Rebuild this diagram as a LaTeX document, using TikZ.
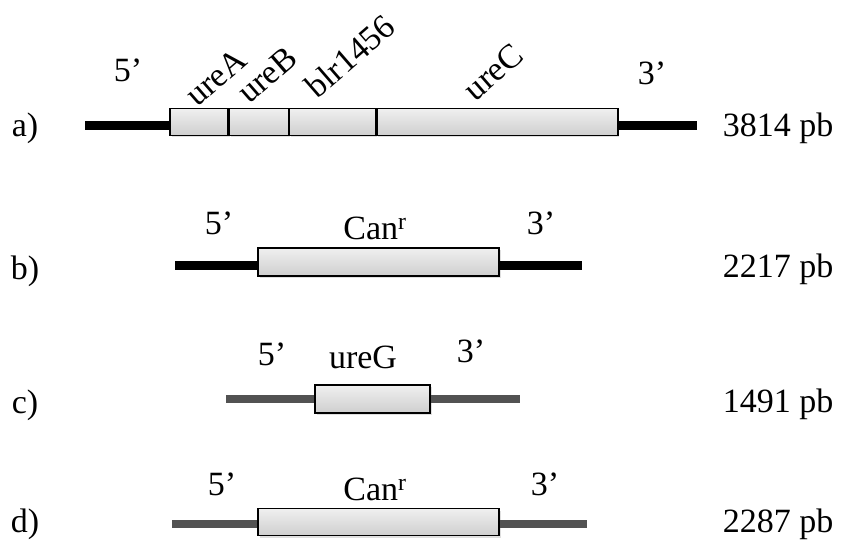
\documentclass[tikz,border=0pt]{standalone}
\usepackage{fontspec}
\setmainfont{Liberation Serif}
\usetikzlibrary{shadows}
\begin{document}
\begin{tikzpicture}[x=1pt,y=-1pt,
  gene/.style={draw=black,line width=1.3pt,inner sep=0pt,top color=gray!12,bottom color=gray!38,
    drop shadow={shadow xshift=1.5pt,shadow yshift=-2pt,opacity=0.25}},
  dnablack/.style={line width=9pt,black},
  dnagray/.style={line width=8pt,black!68},
  lbl/.style={font=\fontsize{34}{38}\selectfont,inner sep=0pt,anchor=base},
  rot/.style={font=\fontsize{34}{38}\selectfont,inner sep=0pt,rotate=41}]
\useasboundingbox (0,0) rectangle (853,540);
% row a
\node[gene,minimum width=58pt,minimum height=27pt] (ga1) at (199,122) {};
\node[gene,minimum width=59pt,minimum height=27pt,anchor=west] (ga2) at (ga1.east) {};
\node[gene,minimum width=86pt,minimum height=27pt,anchor=west] (ga3) at (ga2.east) {};
\node[gene,minimum width=241pt,minimum height=27pt,anchor=west] (ga4) at (ga3.east) {};
\coordinate (la) at (85,126);
\coordinate (ra) at (697,126);
\draw[dnablack] (la) -- (ga1.west|-la);
\draw[dnablack] (ga4.east|-ra) -- (ra);
\node[lbl] (a5) at (128,82) {5’};
\node[lbl] (a3) at (652,85) {3’};
\node[rot] (tA) at (216,77) {ureA};
\node[rot] (tB) at (267,75) {ureB};
\node[rot] (tbl) at (350,56) {blr1456};
\node[rot] (tC) at (493,72) {ureC};
\node[lbl] (na) at (25,137) {a)};
\node[lbl] (sa) at (778,137) {3814 pb};
% row b
\node[gene,minimum width=241pt,minimum height=28pt] (gb) at (378.5,262) {};
\coordinate (lb) at (175,265);
\coordinate (rb) at (582,265);
\draw[dnablack] (lb) -- (gb.west|-lb);
\draw[dnablack] (gb.east|-rb) -- (rb);
\node[lbl] (b5) at (219,234) {5’};
\node[lbl] (bc) at (375,239) {Can\textsuperscript{r}};
\node[lbl] (b3) at (541,234) {3’};
\node[lbl] (nb) at (25,279) {b)};
\node[lbl] (sb) at (778,277) {2217 pb};
% row c
\node[gene,minimum width=115pt,minimum height=28pt] (gc) at (372.5,399) {};
\coordinate (lc) at (226,399);
\coordinate (rc) at (520,399);
\draw[dnagray] (lc) -- (gc.west|-lc);
\draw[dnagray] (gc.east|-rc) -- (rc);
\node[lbl] (c5) at (272,365) {5’};
\node[lbl] (cg) at (363,368) {ureG};
\node[lbl] (c3) at (471,362) {3’};
\node[lbl] (nc) at (25,413) {c)};
\node[lbl] (sc) at (778,412) {1491 pb};
% row d
\node[gene,minimum width=241pt,minimum height=27pt] (gd) at (378.5,522) {};
\coordinate (ld) at (172,524);
\coordinate (rd) at (587,524);
\draw[dnagray] (ld) -- (gd.west|-ld);
\draw[dnagray] (gd.east|-rd) -- (rd);
\node[lbl] (d5) at (222,495) {5’};
\node[lbl] (dc) at (375,500) {Can\textsuperscript{r}};
\node[lbl] (d3) at (545,495) {3’};
\node[lbl] (nd) at (25,532) {d)};
\node[lbl] (sd) at (778,532) {2287 pb};
\end{tikzpicture}
\end{document}
